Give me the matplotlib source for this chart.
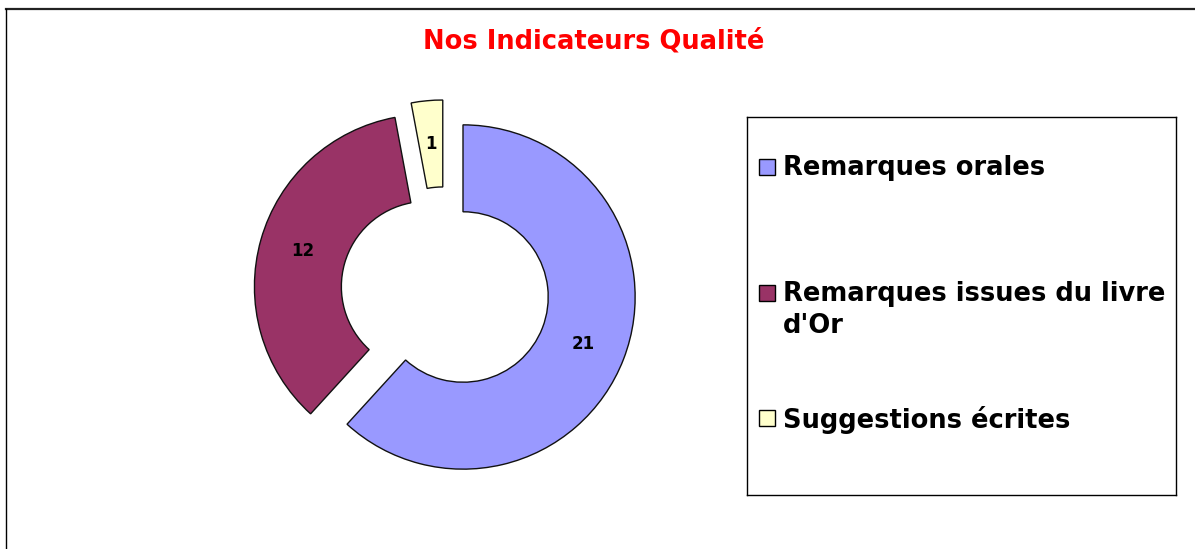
import matplotlib
matplotlib.use("Agg")
import matplotlib.pyplot as plt
from matplotlib.lines import Line2D
from matplotlib.patches import Rectangle

# ── Data ──────────────────────────────────────────────────────────────────────
CATEGORIES = ["Remarques orales", "Remarques issues du livre\nd'Or", "Suggestions écrites"]
VALUES = [21, 12, 1]
COLORS = ["#9999FF", "#993366", "#FFFFCC"]
EXPLODE = [0.0, 0.22, 0.19]
TITLE = "Nos Indicateurs Qualité"

W, H = 1195, 549
plt.rcParams["font.family"] = "DejaVu Sans"

fig = plt.figure(figsize=(W / 100, H / 100), dpi=100)
fig.patch.set_facecolor("white")

# ── Frame lines (chart area border) ──────────────────────────────────────────
fig.add_artist(Line2D([6 / W, 1], [1 - 9 / H, 1 - 9 / H], transform=fig.transFigure,
                      color="#222222", lw=1.6))
fig.add_artist(Line2D([6 / W, 6 / W], [0, 1 - 9 / H], transform=fig.transFigure,
                      color="black", lw=1.0))

fig.text(594 / W, 1 - 41 / H, TITLE, ha="center", va="center",
         color="#FF0000", fontsize=18.5, fontweight="bold")

# ── Doughnut ──────────────────────────────────────────────────────────────────
ax = fig.add_axes([222 / W, 11 / H, 482 / W, 482 / H])
total = sum(VALUES)
wedges, texts, autotexts = ax.pie(
    VALUES, colors=COLORS, startangle=90, counterclock=False, explode=EXPLODE,
    radius=1.0, wedgeprops=dict(width=0.505, edgecolor="#111111", linewidth=1.0),
    autopct=lambda p: f"{p * total / 100:.0f}", pctdistance=0.75,
    textprops=dict(fontsize=12, fontweight="bold", color="black"))

# Excel pushes the small slice up-left rather than strictly radially
dx, dy = -0.10, -0.045
cx, cy = wedges[2].center
wedges[2].set_center((cx + dx, cy + dy))
tx, ty = autotexts[2].get_position()
autotexts[2].set_position((tx + dx, ty + dy))

ax.set_xlim(-1.4, 1.4)
ax.set_ylim(-1.4, 1.4)
ax.set_aspect("equal")
ax.axis("off")

# ── Legend box (Excel style: entries spread over box height) ─────────────────
lx0, lx1, ly0, ly1 = 747, 1176, 117, 495
lax = fig.add_axes([lx0 / W, (H - ly1) / H, (lx1 - lx0) / W, (ly1 - ly0) / H])
lax.set_xlim(0, lx1 - lx0)
lax.set_ylim(ly1 - ly0, 0)
lax.set_xticks([])
lax.set_yticks([])
for s in lax.spines.values():
    s.set_color("black")
    s.set_linewidth(1.0)

row_y = [167 - ly0, 293 - ly0, 418 - ly0]
for lab, col, y in zip(CATEGORIES, COLORS, row_y):
    lax.add_patch(Rectangle((12, y - 8), 16, 16, facecolor=col,
                            edgecolor="black", lw=1.0))
    lax.text(36, y - 12, lab, ha="left", va="top", fontsize=18.5,
             fontweight="bold", linespacing=1.3)

fig.savefig("out.png", dpi=100, facecolor="white")
